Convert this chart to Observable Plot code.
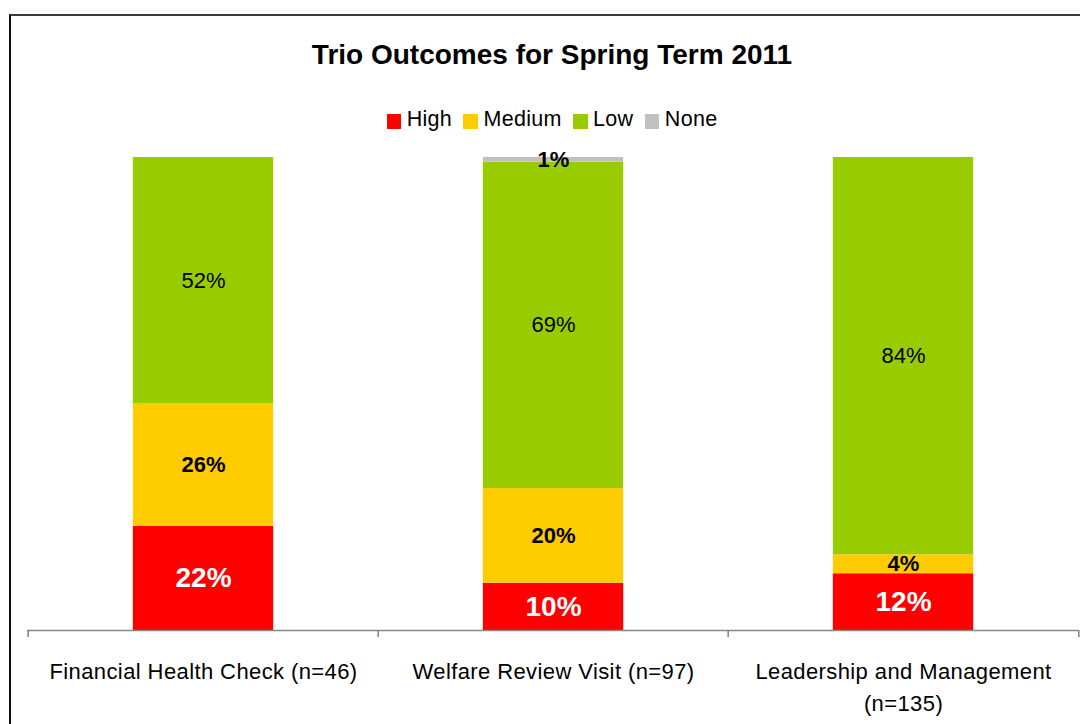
<!DOCTYPE html>
<html><head><meta charset="utf-8">
<script src="https://cdn.jsdelivr.net/npm/d3@7"></script>
<script src="https://cdn.jsdelivr.net/npm/@observablehq/plot@0.6"></script>
<style>
html,body{margin:0;padding:0;background:#fff;width:1080px;height:724px;overflow:hidden;font-family:"Liberation Sans",Arial,sans-serif;color:#000;}
#frame{position:absolute;left:9px;top:14px;width:1200px;height:800px;border-top:2px solid #3c3c3c;border-left:2px solid #111;}
#title{position:absolute;left:25px;width:1054px;top:39px;text-align:center;font-weight:bold;font-size:28px;line-height:32px;}
#legend{position:absolute;left:0;width:1104px;top:107px;display:flex;justify-content:center;font-size:21.5px;line-height:24px;letter-spacing:0.3px;}
.item{display:flex;align-items:flex-start;margin:0 5.65px;}
.sw{width:14.5px;height:14.5px;margin-top:7px;margin-right:5.6px;}
#chart{position:absolute;left:0;top:140px;}
[aria-label="x-axis tick label"]{letter-spacing:0.4px;}
</style>
</head><body>
<div id="frame"></div>
<div id="title">Trio Outcomes for Spring Term 2011</div>
<div id="legend"></div>
<div id="chart"></div>
<script>
const categories = ["Financial Health Check (n=46)", "Welfare Review Visit (n=97)", "Leadership and Management\n(n=135)"];
const levels = ["High", "Medium", "Low", "None"];
const colors = ["#FF0000", "#FFCC00", "#99CC00", "#C0C0C0"];
const high = [22, 10, 12];
const medium = [26, 20, 4];
const low = [52, 69, 84];
const none = [0, 1, 0];

const series = {High: high, Medium: medium, Low: low, None: none};
const data = [];
categories.forEach((c, i) => levels.forEach(l => data.push({category: c, level: l, value: series[l][i]})));

// legend
const legend = document.getElementById("legend");
levels.forEach((l, i) => {
  const item = document.createElement("div");
  item.className = "item";
  const sw = document.createElement("div");
  sw.className = "sw";
  sw.style.background = colors[i];
  const t = document.createElement("span");
  t.textContent = l;
  item.appendChild(sw); item.appendChild(t);
  legend.appendChild(item);
});

const W = 1080, H = 584, ML = 27, MR = 1, MT = 17, MB = 94;
const bw = (W - ML - MR) / categories.length;
const barW = 141;
const inset = (bw - barW) / 2;
const stack = {x: "category", y: "value", z: "level", order: levels};
const labelMark = (lvl, opts) => Plot.text(data, Plot.stackY({
  ...stack,
  text: d => (d.level === lvl && d.value > 0) ? d.value + "%" : null,
  ...opts
}));

const chart = Plot.plot({
  width: W, height: H,
  marginLeft: ML, marginRight: MR, marginTop: MT, marginBottom: MB,
  style: {fontFamily: "'Liberation Sans', Arial, sans-serif", background: "none", color: "#000", overflow: "visible"},
  x: {domain: categories, padding: 0, label: null},
  y: {domain: [0, 100], axis: null},
  color: {domain: levels, range: colors},
  marks: [
    Plot.barY(data, Plot.stackY({...stack, fill: "level", insetLeft: inset, insetRight: inset})),
    Plot.ruleY([0], {stroke: "#878787", strokeWidth: 1.5}),
    Plot.axisX({tickSize: 7, tickFormat: () => "", label: null, dx: -bw / 2, stroke: "#808080", strokeWidth: 1.5}),
    Plot.axisX({ticks: [categories[categories.length - 1]], tickSize: 7, tickFormat: () => "", label: null, dx: bw / 2, stroke: "#808080", strokeWidth: 1.5}),
    Plot.axisX({tickSize: 0, tickPadding: 26, fontSize: 22, lineHeight: 1.44, fill: "#000", label: null}),
    labelMark("High", {fill: "white", fontWeight: "bold", fontSize: 28}),
    labelMark("Medium", {fill: "#000", fontWeight: "bold", fontSize: 22}),
    labelMark("Low", {fill: "#000", fontSize: 22}),
    labelMark("None", {fill: "#000", fontWeight: "bold", fontSize: 22})
  ]
});
document.getElementById("chart").appendChild(chart);
</script>
</body></html>
